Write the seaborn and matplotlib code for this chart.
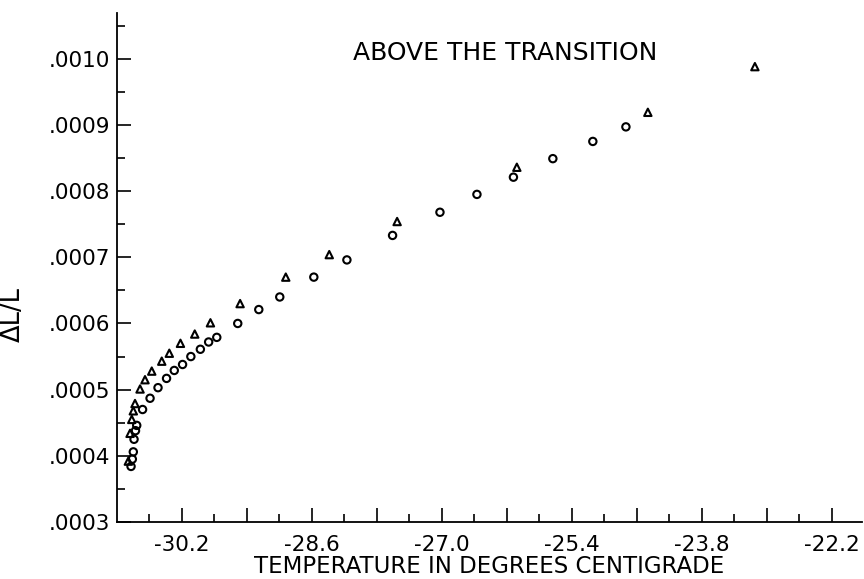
import numpy as np
import pandas as pd
import seaborn as sns
import matplotlib.pyplot as plt
from matplotlib.ticker import FixedLocator, FixedFormatter, FuncFormatter

# open circles
circle_temp = [-30.824, -30.808, -30.796, -30.787, -30.769, -30.754, -30.682,
               -30.590, -30.492, -30.387, -30.292, -30.190, -30.088, -29.971,
               -29.869, -29.769, -29.511, -29.252, -28.994, -28.575, -28.168,
               -27.606, -27.023, -26.568, -26.119, -25.634, -25.142, -24.735]
circle_dl = [0.000384, 0.000395, 0.000406, 0.000425, 0.000438, 0.000446, 0.000470,
             0.000487, 0.000503, 0.000517, 0.000529, 0.000538, 0.000550, 0.000561,
             0.000572, 0.000579, 0.000600, 0.000621, 0.000640, 0.000670, 0.000696,
             0.000733, 0.000768, 0.000795, 0.000821, 0.000849, 0.000875, 0.000897]

# open triangles
tri_temp = [-30.857, -30.836, -30.815, -30.796, -30.775, -30.713, -30.652,
            -30.569, -30.446, -30.353, -30.216, -30.040, -29.847, -29.482,
            -28.920, -28.385, -27.550, -26.077, -24.465, -23.148]
tri_dl = [0.000392, 0.000434, 0.000455, 0.000468, 0.000479, 0.000501, 0.000515,
          0.000528, 0.000543, 0.000555, 0.000570, 0.000584, 0.000601, 0.000630,
          0.000670, 0.000704, 0.000754, 0.000836, 0.000919, 0.000988]

x_major = [-30.2, -29.4, -28.6, -27.8, -27.0, -26.2, -25.4, -24.6, -23.8, -23.0, -22.2]
x_labels = ['-30.2', '', '-28.6', '', '-27.0', '', '-25.4', '', '-23.8', '', '-22.2']
x_minor = [-30.6, -29.8, -29.0, -28.2, -27.4, -26.6, -25.8, -25.0, -24.2, -23.4, -22.6]
y_major = [0.0003, 0.0004, 0.0005, 0.0006, 0.0007, 0.0008, 0.0009, 0.0010]
y_minor = [0.00035, 0.00045, 0.00055, 0.00065, 0.00075, 0.00085, 0.00095, 0.00105]

df = pd.concat([
    pd.DataFrame({'temp': circle_temp, 'dl': circle_dl, 'set': 'circle'}),
    pd.DataFrame({'temp': tri_temp, 'dl': tri_dl, 'set': 'triangle'}),
], ignore_index=True)

sns.set_style('ticks')
plt.rcParams['font.family'] = ['DejaVu Sans']
plt.rcParams['text.color'] = 'black'
plt.rcParams['axes.labelcolor'] = 'black'
plt.rcParams['xtick.color'] = 'black'
plt.rcParams['ytick.color'] = 'black'

fig = plt.figure(figsize=(8.64, 5.79), dpi=100)
ax = fig.add_axes([0.1351, 0.0984, 0.8626, 0.8791])

sns.scatterplot(data=df, x='temp', y='dl', style='set',
                markers={'circle': 'o', 'triangle': '^'},
                s=28, facecolor='none', edgecolor='black', linewidth=1.5,
                legend=False, ax=ax)

ax.set_xlim(-31.0, -21.83)
ax.set_ylim(0.0003, 0.001069)

ax.xaxis.set_major_locator(FixedLocator(x_major))
ax.xaxis.set_major_formatter(FixedFormatter(x_labels))
ax.xaxis.set_minor_locator(FixedLocator(x_minor))
ax.yaxis.set_major_locator(FixedLocator(y_major))
ax.yaxis.set_major_formatter(FuncFormatter(lambda v, p: f'{v:.4f}'.lstrip('0')))
ax.yaxis.set_minor_locator(FixedLocator(y_minor))

ax.tick_params(which='major', direction='in', length=10, width=1.2, labelsize=15.5)
ax.tick_params(which='minor', direction='in', length=5.5, width=1.2)
ax.tick_params(axis='x', which='major', pad=9)
ax.tick_params(axis='y', which='major', pad=5)

for side in ['top', 'right']:
    ax.spines[side].set_visible(False)
for side in ['left', 'bottom']:
    ax.spines[side].set_linewidth(1.3)
    ax.spines[side].set_color('black')

ax.set_xlabel('TEMPERATURE IN DEGREES CENTIGRADE', fontsize=16.5, labelpad=0)
ax.set_ylabel('ΔL/L', fontsize=18.5)
ax.yaxis.set_label_coords(-0.122, 0.407)

ax.text(0.521, 0.922, 'ABOVE THE TRANSITION', transform=ax.transAxes,
        ha='center', va='center', fontsize=18)

fig.savefig('out.png', dpi=100)
